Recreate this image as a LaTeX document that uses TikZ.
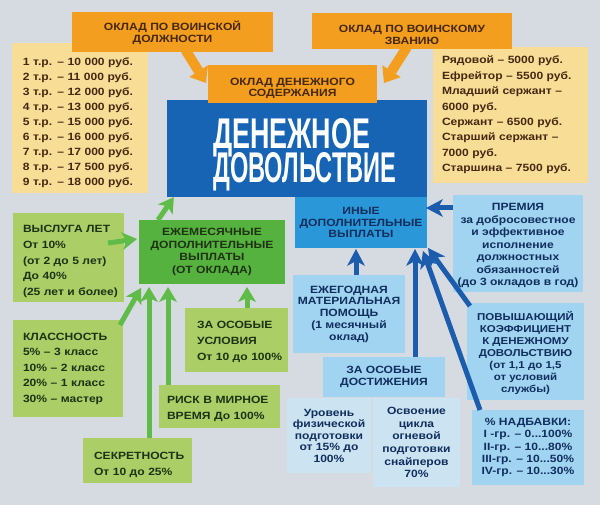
\documentclass[tikz,border=0pt]{standalone}
\usepackage{fontspec}
\usepackage{graphicx}
\setmainfont{Liberation Sans}[FakeStretch=1.15]
\newfontfamily\titlefont{Liberation Sans}
\usetikzlibrary{arrows.meta,calc}
\definecolor{cBg}{RGB}{214,219,225}
\definecolor{cOrange}{RGB}{243,158,30}
\definecolor{cYellow}{RGB}{248,221,150}
\definecolor{cGreenD}{RGB}{86,178,62}
\definecolor{cGreenL}{RGB}{172,206,102}
\definecolor{cGreenA}{RGB}{96,188,72}
\definecolor{cBlueD}{RGB}{24,100,180}
\definecolor{cBlueM}{RGB}{42,152,216}
\definecolor{cBlueL}{RGB}{160,212,240}
\definecolor{cBlueP}{RGB}{204,228,242}
\definecolor{cBlueA}{RGB}{28,92,172}
\definecolor{cBrown}{RGB}{70,40,16}
\definecolor{cDGreen}{RGB}{30,50,20}
\definecolor{cNavy}{RGB}{16,46,94}
\newcommand{\bxp}[2]{\leftskip=#1pt\relax\rule{0pt}{#2pt}}
\newcommand{\bxs}[1]{\rule{0pt}{#1pt}}
\newcommand{\ttlbox}[3]{\raisebox{0pt}[\height][0pt]{\resizebox{#1pt}{#2pt}{\titlefont\bfseries #3}}}
\begin{document}
\begin{tikzpicture}[x=1pt,y=-1pt,
  lbox/.style={inner sep=0pt, outer sep=0pt, align=left},
  cbox/.style={inner sep=0pt, outer sep=0pt, align=center},
  ylw/.style={lbox, fill=cYellow, text=cBrown},
  lgr/.style={lbox, fill=cGreenL, text=cDGreen},
  org/.style={cbox, fill=cOrange, text=cBrown},
  dgr/.style={cbox, fill=cGreenD, text=cDGreen},
  bmid/.style={cbox, fill=cBlueM, text=cNavy},
  blt/.style={cbox, fill=cBlueL, text=cNavy},
  bpale/.style={cbox, fill=cBlueP, text=cNavy},
  fs/.style={font=\fontsize{10.5}{#1}\selectfont\bfseries},
  garrow/.style={draw=cGreenA, line width=5pt, -{Stealth[length=15pt,width=18pt,inset=4pt,line width=0pt]}},
  barrow/.style={draw=cBlueA, line width=5pt, -{Stealth[length=17pt,width=18pt,inset=5pt,line width=0pt]}},
  otail/.style={draw=cOrange, line width=10pt, -{Triangle[length=14pt,width=22pt,line width=0pt]}}
]
\useasboundingbox (0,0) rectangle (600,505);
\fill[cBg] (0,0) rectangle (600,505);

% yellow salary tables
\node[ylw, fs=15, text width=136pt, minimum height=150pt] (yl) at (80,118)
 {\bxp{11}{18}1 т.р. – 10 000 руб.\\2 т.р. – 11 000 руб.\\3 т.р. – 12 000 руб.\\4 т.р. – 13 000 руб.\\5 т.р. – 15 000 руб.\\6 т.р. – 16 000 руб.\\7 т.р. – 17 000 руб.\\8 т.р. – 17 500 руб.\\9 т.р. – 18 000 руб.\par};
\node[ylw, fs=15.4, text width=155pt, minimum height=136pt] (yr) at (510.5,115)
 {\bxp{9}{7}Рядовой – 5000 руб.\\Ефрейтор – 5500 руб.\\Младший сержант –\\6000 руб.\\Сержант – 6500 руб.\\Старший сержант –\\7000 руб.\\Старшина – 7500 руб.\par};

% central box
\node[fill=cBlueD, minimum width=260pt, minimum height=97pt, inner sep=0pt] (dd) at (297,148.5) {};
\node[anchor=north west, inner sep=0pt, text=white, align=left, font=\fontsize{10}{34}\selectfont] (ttl) at (213,118)
 {\ttlbox{157}{30}{ДЕНЕЖНОЕ}\\\ttlbox{183}{30}{ДОВОЛЬСТВИЕ}};

% orange boxes
\node[org, fs=12, minimum width=201pt, minimum height=40pt] (okl1) at (172.5,32) {\bxs{12}ОКЛАД ПО ВОИНСКОЙ\\ДОЛЖНОСТИ};
\node[org, fs=12, minimum width=200pt, minimum height=36pt] (okl2) at (412,31) {\bxs{15.5}ОКЛАД ПО ВОИНСКОМУ\\ЗВАНИЮ};
\node[org, fs=11, minimum width=169pt, minimum height=38pt] (okl3) at (292.5,84) {\bxs{15.5}ОКЛАД ДЕНЕЖНОГО\\СОДЕРЖАНИЯ};
\draw[otail] ($(okl1.south)+(13,-2)$) -- ($(okl3.west)+(-2,-1)$);
\draw[otail] ($(okl2.south)+(-5,-2)$) -- ($(okl3.east)+(7,-1)$);

% green boxes
\node[dgr, fs=12.7, minimum width=146pt, minimum height=64pt] (ezh) at (212,252) {ЕЖЕМЕСЯЧНЫЕ\\ДОПОЛНИТЕЛЬНЫЕ\\ВЫПЛАТЫ\\(ОТ ОКЛАДА)};
\node[lgr, fs=15.7, text width=111pt, minimum height=89pt] (vysl) at (68.5,257.5) {\bxp{10}{15.5}ВЫСЛУГА ЛЕТ\\От 10\%\\(от 2 до 5 лет)\\До 40\%\\(25 лет и более)\par};
\node[lgr, fs=15.5, text width=110pt, minimum height=97pt] (klass) at (68,368.5) {\bxp{10}{7}КЛАССНОСТЬ\\5\% – 3 класс\\10\% – 2 класс\\20\% – 1 класс\\30\% – мастер\par};
\node[lgr, fs=16, text width=103pt, minimum height=64pt] (osu) at (236.5,340) {\bxp{12}{11.5}ЗА ОСОБЫЕ\\УСЛОВИЯ\\От 10 до 100\%\par};
\node[lgr, fs=16, text width=121pt, minimum height=43pt] (risk) at (219.5,406.5) {\bxp{8}{12.5}РИСК В МИРНОЕ\\ВРЕМЯ До 100\%\par};
\node[lgr, fs=16, text width=109pt, minimum height=45pt] (sekr) at (137.5,460.5) {\bxp{11}{16.5}СЕКРЕТНОСТЬ\\От 10 до 25\%\par};

% blue boxes
\node[bmid, fs=11.5, minimum width=132pt, minimum height=51pt] (inye) at (361,222.5) {ИНЫЕ\\ДОПОЛНИТЕЛЬНЫЕ\\ВЫПЛАТЫ};
\node[blt, fs=12.5, minimum width=130pt, minimum height=97pt] (prem) at (518,243.5) {\bxs{11.5}ПРЕМИЯ\\за добросовестное\\и эффективное\\исполнение\\должностных\\обязанностей\\(до 3 окладов в год)};
\node[blt, fs=11.75, minimum width=112pt, minimum height=78pt] (ezhg) at (349,314) {ЕЖЕГОДНАЯ\\МАТЕРИАЛЬНАЯ\\ПОМОЩЬ\\(1 месячный\\оклад)};
\node[blt, fs=12, minimum width=122pt, minimum height=40pt] (osd) at (384,377) {ЗА ОСОБЫЕ\\ДОСТИЖЕНИЯ};
\node[bpale, fs=11.5, minimum width=84pt, minimum height=75pt] (urov) at (329,435.5) {Уровень\\физической\\подготовки\\от 15\% до\\100\%};
\node[bpale, fs=12.6, minimum width=87pt, minimum height=89pt] (osv) at (416.5,442.5) {Освоение\\цикла\\огневой\\подготовки\\снайперов\\70\%};
\node[blt, font=\fontsize{10}{12}\selectfont\bfseries, minimum width=117pt, minimum height=97pt] (pov) at (525.5,351.5) {\bxs{12.5}ПОВЫШАЮЩИЙ\\КОЭФФИЦИЕНТ\\К ДЕНЕЖНОМУ\\ДОВОЛЬСТВИЮ\\(от 1,1 до 1,5\\от условий\\службы)};
\node[blt, fs=12.25, minimum width=112pt, minimum height=75pt] (nadb) at (528,447.5) {\% НАДБАВКИ:\\I -гр. – 0...100\%\\II-гр. – 10...80\%\\III-гр. – 10...50\%\\IV-гр. – 10...30\%};

% green arrows
\draw[garrow] ($(ezh.north west)+(19,0)$) -- ($(dd.south west)+(7,0)$);
\draw[garrow] ($(vysl.north east)+(-16,30)$) -- ($(ezh.north west)+(-2,19)$);
\draw[garrow] ($(klass.north east)+(-3,5)$) -- ($(ezh.south west)+(2,4)$);
\draw[garrow] ($(sekr.north west)+(66,0)$) -- ($(ezh.south west)+(10,3)$);
\draw[garrow] ($(risk.north west)+(9,0)$) -- ($(ezh.south west)+(29,3)$);
\draw[garrow] ($(osu.north west)+(62,0)$) -- ($(ezh.south west)+(108,3)$);

% blue arrows
\draw[barrow] ($(prem.north west)+(0,13)$) -- ($(inye.north east)+(-1,11)$);
\draw[barrow] ($(ezhg.north west)+(63,0)$) -- ($(inye.south west)+(61,1)$);
\draw[barrow] ($(osd.north west)+(92,0)$) -- ($(inye.south west)+(120,1)$);
\draw[barrow] ($(pov.north west)+(3,3)$) -- ($(inye.south east)+(1,0)$);
\draw[barrow] ($(nadb.north west)+(8,0)$) -- ($(inye.south east)+(-4,3)$);
\end{tikzpicture}
\end{document}
